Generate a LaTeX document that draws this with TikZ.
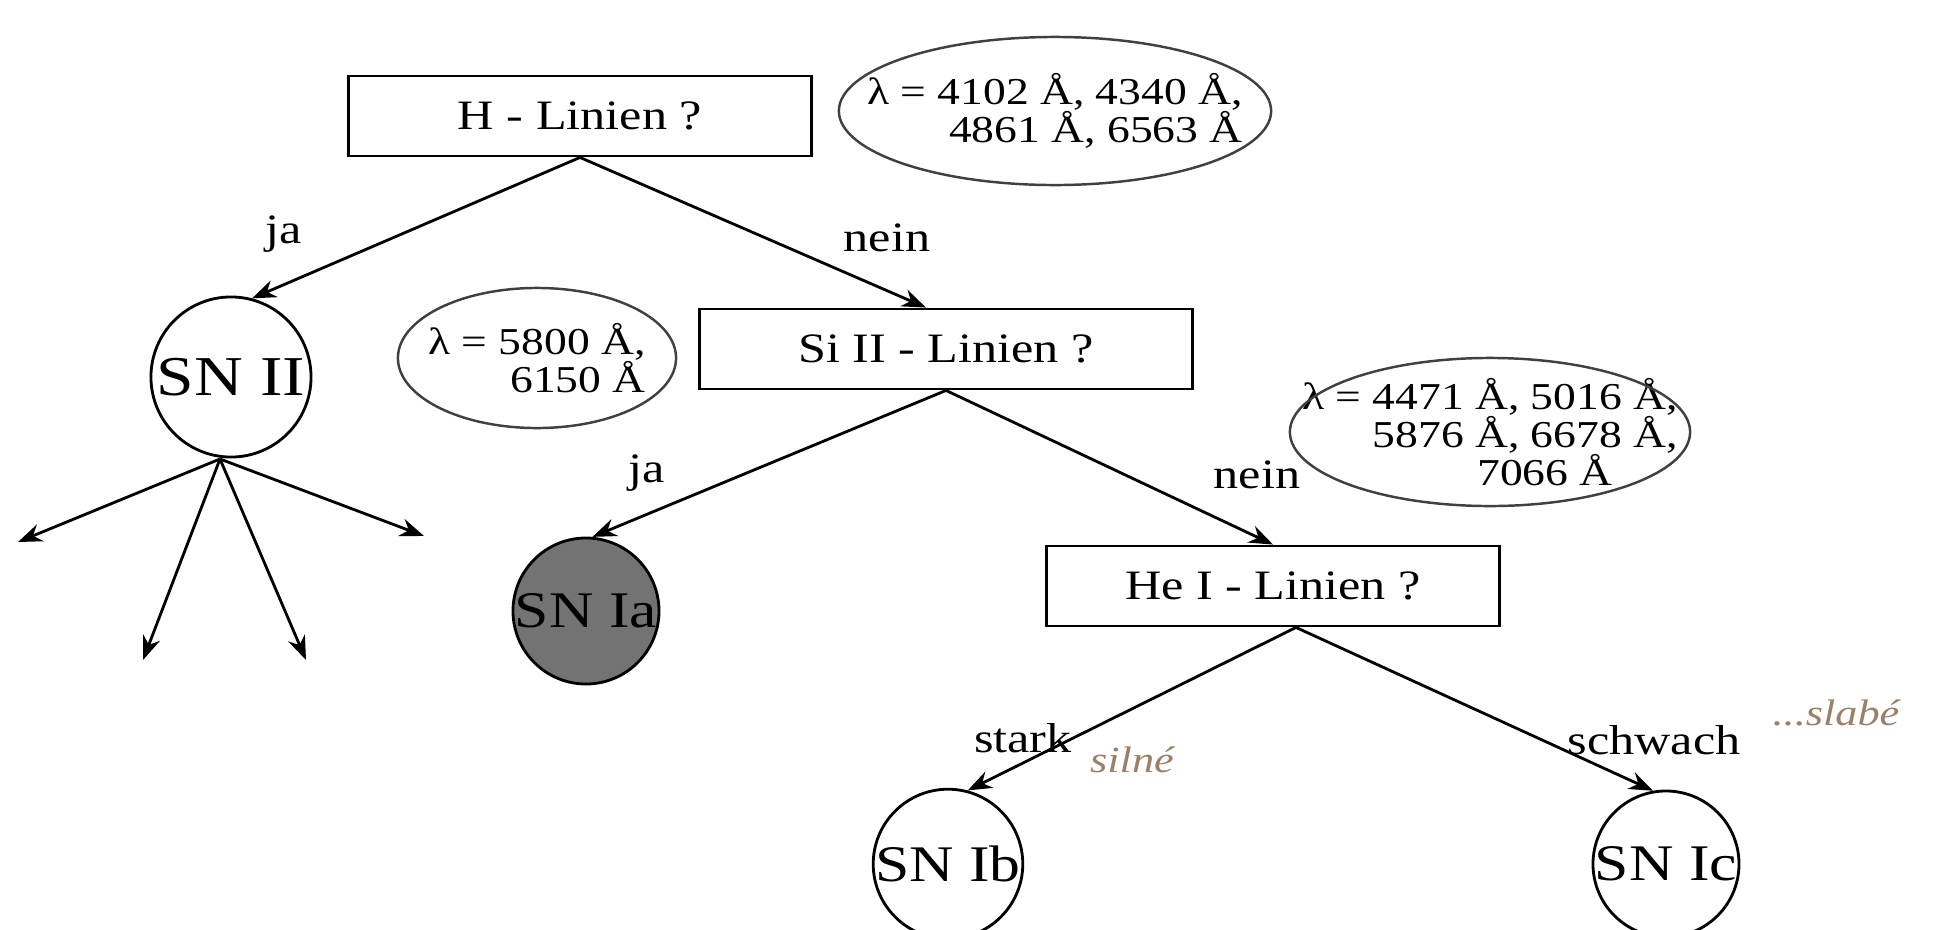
\documentclass[tikz,border=0pt]{standalone}
\usepackage{fontspec}
\setmainfont{Liberation Serif}[FakeStretch=1.2]
\usetikzlibrary{arrows.meta, calc}

\begin{document}
\begin{tikzpicture}[x=0.01cm, y=-0.01cm, >={Stealth[length=2.4mm, width=1.8mm]}, line width=0.8pt,
    every node/.style={font=\fontsize{11.9}{12}\selectfont},
    frage/.style={draw, rectangle, minimum height=0.8cm, inner sep=0pt},
    typ/.style={draw, circle, inner sep=0pt, minimum size=1.38cm, font=\fontsize{14.6}{15}\selectfont},
    linien/.style={inner sep=0pt, align=right, font=\fontsize{10.8}{10.8}\selectfont},
    oval/.style={draw=black!75, line width=0.7pt},
    hand/.style={text=brown!40!gray, font=\fontsize{10.5}{10}\itshape}]
  \useasboundingbox (0,0) rectangle (1935,930);
  % questions
  \node[frage, minimum width=4.62cm] (hq) at (580,116) {H - Linien ?};
  \node[frage, minimum width=4.93cm] (siq) at (946,349) {Si II - Linien ?};
  \node[frage, minimum width=4.53cm] (heq) at (1273,586) {He I - Linien ?};
  % wavelengths
  \node[linien] (lamH) at (1055,111) {λ = 4102 Å, 4340 Å,\\ 4861 Å, 6563 Å};
  \draw[oval] (lamH) ellipse [x radius=2.16cm, y radius=0.74cm];
  \node[linien] (lamSi) at (537,358) {λ = 5800 Å,\\ 6150 Å};
  \draw[oval] (lamSi) ellipse [x radius=1.39cm, y radius=0.7cm];
  \node[linien] (lamHe) at (1490,432) {λ = 4471 Å, 5016 Å,\\ 5876 Å, 6678 Å,\\ 7066 Å\hspace*{0.65cm}};
  \draw[oval] (lamHe) ellipse [x radius=2cm, y radius=0.74cm];
  % types
  \node[typ, minimum size=1.6cm, font=\fontsize{16}{16}\selectfont] (snII) at (231,377) {SN II};
  \node[typ, fill=black!55] (snIa) at (586,611) {SN Ia};
  \node[typ] (snIb) at (948,864) {SN Ib};
  \node[typ] (snIc) at (1666,864) {SN Ic};
  % branches
  \draw[->] (hq.south) -- (snII.75);
  \draw[->] (hq.south) -- ($(siq.north)+(-20,0)$);
  \draw[->] (siq.south) -- (snIa.85);
  \draw[->] (siq.south) -- (heq.north);
  \coordinate (he0) at ($(heq.south)+(23,0)$);
  \draw[->] (he0) -- (snIb.75);
  \draw[->] (he0) -- (snIc.100);
  \coordinate (fan) at (220,459);
  \foreach \ex/\ey in {18/542, 143/660, 306/660, 424/536}
    \draw[->] (fan) -- (\ex,\ey);
  \node (ja1) at (284,234) {ja};
  \node (nein1) at (887,238) {nein};
  \node (ja2) at (647,473) {ja};
  \node (nein2) at (1257,475) {nein};
  \node (stark) at (1023,738) {stark};
  \node (schwach) at (1654,740) {schwach};
  \node[hand] (silne) at (1132,760) {silné};
  \node[hand] (slabe) at (1836,713) {...slabé};
\end{tikzpicture}
\end{document}
